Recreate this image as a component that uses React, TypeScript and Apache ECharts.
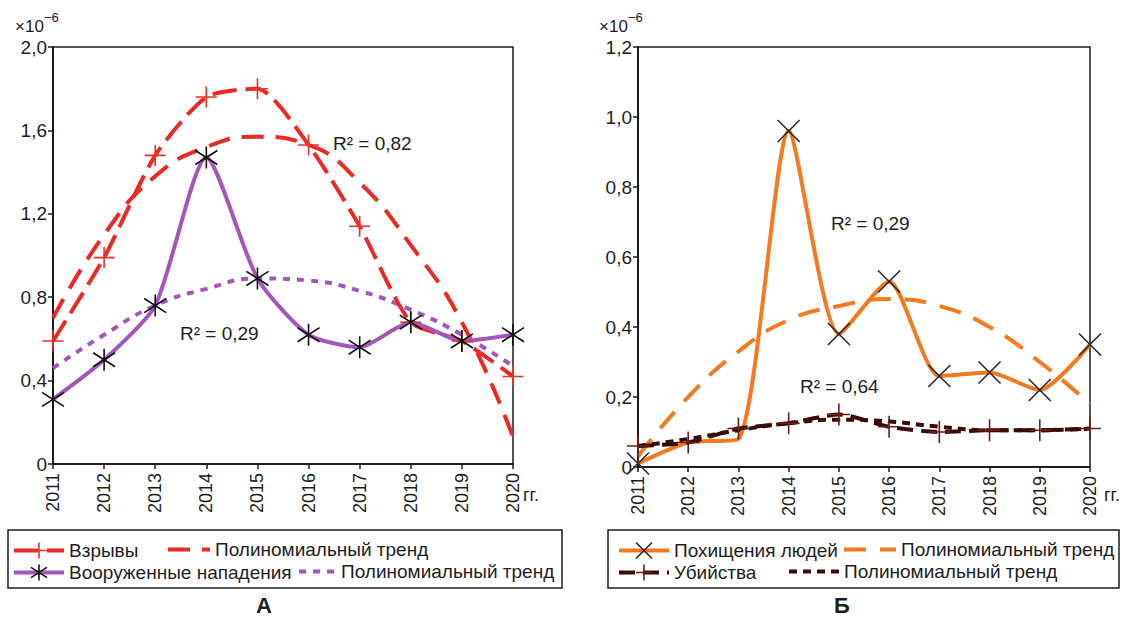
import React, { useEffect, useRef } from 'react';
import * as echarts from 'echarts';

// ---- data ----
const years = ['2011', '2012', '2013', '2014', '2015', '2016', '2017', '2018', '2019', '2020'];

// Chart A
const explosions = [0.59, 0.99, 1.48, 1.76, 1.8, 1.53, 1.14, 0.68, 0.59, 0.42];
const explosionsTrend = [0.7, 1.1, 1.38, 1.52, 1.57, 1.53, 1.35, 1.05, 0.68, 0.13];
const attacks = [0.31, 0.5, 0.76, 1.47, 0.89, 0.62, 0.56, 0.68, 0.59, 0.62];
const attacksTrend = [0.46, 0.62, 0.76, 0.84, 0.89, 0.88, 0.83, 0.74, 0.62, 0.47];

// Chart Б
const kidnappings = [0.01, 0.07, 0.08, 0.96, 0.38, 0.53, 0.26, 0.27, 0.22, 0.35];
const kidnappingsHiddenMarkers = ['2012', '2013'];
const kidnappingsTrend = [0.03, 0.2, 0.33, 0.42, 0.46, 0.48, 0.46, 0.4, 0.3, 0.18];
const murders = [0.06, 0.07, 0.11, 0.125, 0.15, 0.115, 0.1, 0.105, 0.105, 0.11];
const murdersTrend = [0.06, 0.08, 0.105, 0.125, 0.135, 0.13, 0.115, 0.105, 0.105, 0.11];

const leftAxis = { min: 0, max: 2.0, interval: 0.4 };
const rightAxis = { min: 0, max: 1.2, interval: 0.2 };

const nameExplosions = 'Взрывы';
const nameAttacks = 'Вооруженные нападения';
const nameKidnap = 'Похищения людей';
const nameMurder = 'Убийства';
const trendLabel = 'Полиномиальный тренд';
const trend1 = trendLabel + '#1';
const trend2 = trendLabel + '#2';
const trend3 = trendLabel + '#3';
const trend4 = trendLabel + '#4';

const r2Texts = ['R² = 0,82', 'R² = 0,29', 'R² = 0,29', 'R² = 0,64'];

// ---- styles ----
const RED = '#ec2a24';
const PURPLE = '#a357bd';
const ORANGE = '#f47a20';
const BROWN = '#3a0a0a';
const PLUS_RED = '#e8322a';
const PLUS_DARK = '#6e1c1c';
const INK = '#1e1e1e';
const FONT = '"Liberation Sans", Arial, sans-serif';

const PLUS = 'path://M0,5 L10,5 M5,0 L5,10';
const ZHE = 'path://M5,0 L5,10 M0,1.8 L10,8.2 M0,8.2 L10,1.8';
const CROSS = 'path://M0,0 L10,10 M0,10 L10,0';

const fmt = (v: number) => (v === 0 ? '0' : v.toFixed(1).replace('.', ','));

function makeXAxis(gridIndex: number) {
  return {
    type: 'category',
    gridIndex,
    data: years,
    boundaryGap: false,
    axisLine: { show: true, lineStyle: { color: INK, width: 2 } },
    axisTick: { show: true, length: 5, lineStyle: { color: INK, width: 1.5 } },
    axisLabel: { rotate: 90, interval: 0, fontSize: 18, color: INK, margin: 9, fontFamily: FONT },
    splitLine: { show: false },
  };
}

function makeYAxis(gridIndex: number, cfg: { min: number; max: number; interval: number }) {
  return {
    type: 'value',
    gridIndex,
    min: cfg.min,
    max: cfg.max,
    interval: cfg.interval,
    axisLine: { show: true, lineStyle: { color: INK, width: 2 } },
    axisTick: { show: true, length: 5, lineStyle: { color: INK, width: 1.5 } },
    axisLabel: { fontSize: 19, color: INK, margin: 6, fontFamily: FONT, formatter: fmt },
    splitLine: { show: false },
  };
}

function dataSeries(name: string, data: any[], idx: number, lineColor: string, lineType: any, symbol: string, symColor: string, size: number) {
  return {
    type: 'line',
    name,
    data,
    xAxisIndex: idx,
    yAxisIndex: idx,
    smooth: 0.22,
    symbol,
    symbolSize: size,
    showSymbol: true,
    lineStyle: { color: lineColor, width: 4, type: lineType, cap: 'butt' },
    itemStyle: { color: 'none', borderColor: symColor, borderWidth: 1.6 },
    z: 3,
    emphasis: { disabled: true },
  };
}

function trendSeries(name: string, data: number[], idx: number, lineColor: string, lineType: any) {
  return {
    type: 'line',
    name,
    data,
    xAxisIndex: idx,
    yAxisIndex: idx,
    smooth: 0.5,
    symbol: 'none',
    showSymbol: false,
    lineStyle: { color: lineColor, width: 4, type: lineType, cap: 'butt' },
    itemStyle: { color: 'rgba(0,0,0,0)', borderWidth: 0 },
    z: 2,
    emphasis: { disabled: true },
  };
}

function legendItem(name: string, left: number, top: number, itemWidth: number, isTrend: boolean) {
  return {
    data: [name],
    left,
    top,
    padding: 0,
    itemWidth,
    itemHeight: 20,
    selectedMode: false,
    formatter: (n: string) => n.split('#')[0],
    textStyle: { fontSize: 19, color: INK, fontFamily: FONT },
    lineStyle: { width: 4 },
    itemStyle: isTrend ? { color: 'rgba(0,0,0,0)', borderColor: 'rgba(0,0,0,0)', borderWidth: 0 } : { borderWidth: 1.6 },
  };
}

function text(x: number, y: number, t: string, size: number, extra: any = {}) {
  return {
    type: 'text',
    x,
    y,
    style: { text: t, fontSize: size, fill: INK, fontFamily: FONT, textVerticalAlign: 'middle', verticalAlign: 'middle', ...extra },
    z: 10,
  };
}

export default function App() {
  const ref = useRef<HTMLDivElement>(null);
  useEffect(() => {
    if (!ref.current) return;
    const chart = echarts.init(ref.current, null, { renderer: 'svg' });
    const kidnapData = kidnappings.map((v, i) =>
      kidnappingsHiddenMarkers.includes(years[i]) ? { value: v, symbol: 'none' } : v
    );
    const option: any = {
      animation: false,
      backgroundColor: '#ffffff',
      textStyle: { fontFamily: FONT },
      grid: [
        { left: 53, top: 47, width: 460, height: 417, show: true, borderColor: INK, borderWidth: 1.5, backgroundColor: 'transparent' },
        { left: 638, top: 47, width: 452, height: 420, show: true, borderColor: INK, borderWidth: 1.5, backgroundColor: 'transparent' },
      ],
      xAxis: [makeXAxis(0), makeXAxis(1)],
      yAxis: [makeYAxis(0, leftAxis), makeYAxis(1, rightAxis)],
      legend: [
        legendItem(nameExplosions, 12, 540, 50, false),
        legendItem(trend1, 166, 540, 42, true),
        legendItem(nameAttacks, 12, 562, 50, false),
        legendItem(trend2, 297, 562, 37, true),
        legendItem(nameKidnap, 617, 540, 50, false),
        legendItem(trend3, 842, 540, 52, true),
        legendItem(nameMurder, 617, 562, 50, false),
        legendItem(trend4, 787, 562, 50, true),
      ],
      series: [
        trendSeries(trend1, explosionsTrend, 0, RED, [22, 12]),
        trendSeries(trend2, attacksTrend, 0, PURPLE, [7, 7]),
        dataSeries(nameExplosions, explosions, 0, RED, [24, 9], PLUS, PLUS_RED, 21),
        dataSeries(nameAttacks, attacks, 0, PURPLE, 'solid', ZHE, '#111111', 22),
        trendSeries(trend3, kidnappingsTrend, 1, ORANGE, [22, 14]),
        trendSeries(trend4, murdersTrend, 1, BROWN, [8, 6]),
        dataSeries(nameKidnap, kidnapData, 1, ORANGE, 'solid', CROSS, '#2a2a2a', 22),
        dataSeries(nameMurder, murders, 1, BROWN, [16, 8], PLUS, PLUS_DARK, 22),
      ],
      graphic: [
        { type: 'rect', shape: { x: 8, y: 530, width: 554, height: 58 }, style: { fill: 'none', stroke: INK, lineWidth: 1.5 }, z: 1 },
        { type: 'rect', shape: { x: 608, y: 530, width: 511, height: 58 }, style: { fill: 'none', stroke: INK, lineWidth: 1.5 }, z: 1 },
        text(15, 26, '×10', 17),
        text(44, 17, '−6', 13),
        text(599, 26, '×10', 17),
        text(628, 17, '−6', 13),
        text(523, 495, 'гг.', 18),
        text(1104, 495, 'гг.', 18),
        text(333, 143, r2Texts[0], 19),
        text(180, 333, r2Texts[1], 19),
        text(831, 223, r2Texts[2], 19),
        text(800, 386, r2Texts[3], 19),
        text(264, 605, 'А', 22, { fontWeight: 'bold', textAlign: 'center', align: 'center' }),
        text(842, 605, 'Б', 22, { fontWeight: 'bold', textAlign: 'center', align: 'center' }),
      ],
    };
    chart.setOption(option);
    return () => chart.dispose();
  }, []);
  return <div ref={ref} style={{ position: 'fixed', left: 0, top: 0, width: 1123, height: 617 }} />;
}
